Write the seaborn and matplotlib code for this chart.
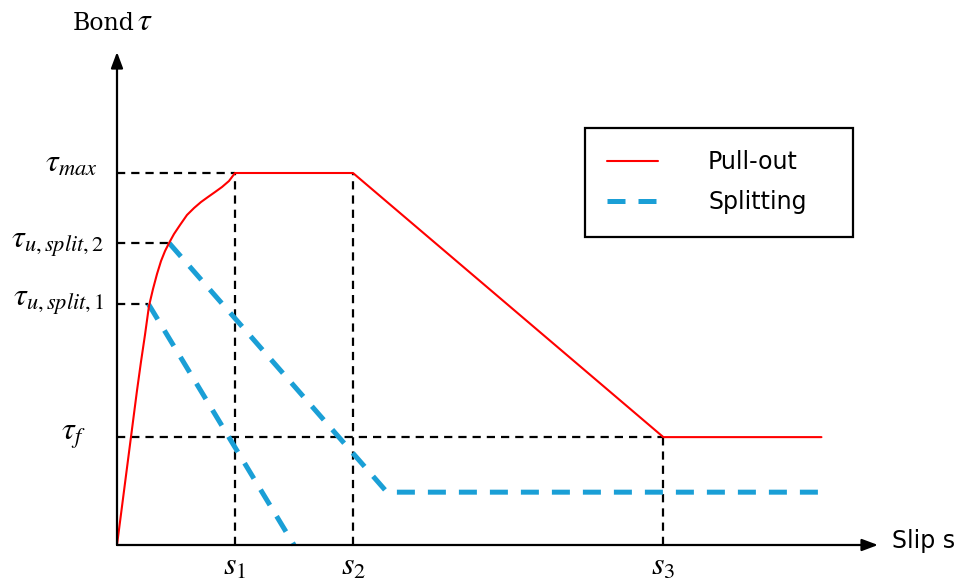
import matplotlib
matplotlib.use("Agg")
import matplotlib.pyplot as plt
import seaborn as sns
import pandas as pd

# ---------------- data ----------------
pull_slip = [0.0, 0.034, 0.068, 0.102, 0.136, 0.169, 0.203, 0.237, 0.271, 0.305,
             0.339, 0.373, 0.407, 0.441, 0.483, 0.534, 0.593, 0.653, 0.712,
             0.771, 0.831, 0.890, 0.949, 1.0, 2.0, 4.63, 5.97]
pull_tau = [0.0, 0.833, 1.667, 2.50, 3.333, 4.14, 4.919, 5.645, 6.425, 6.88,
            7.285, 7.634, 7.903, 8.118, 8.36, 8.602, 8.871, 9.059, 9.22,
            9.355, 9.489, 9.624, 9.785, 10.0, 10.0, 2.90, 2.90]
split1_slip = [0.266, 1.50]
split1_tau = [6.48, 0.0]
split2_slip = [0.441, 2.288, 5.97]
split2_tau = [8.12, 1.42, 1.42]

s_ticks = [1.0, 2.0, 4.63]
s_labels = [r"$s_1$", r"$s_2$", r"$s_3$"]
s_guide_top = [10.0, 10.0, 2.90]
tau_ticks = [10.0, 8.12, 6.48, 2.90]
tau_labels = [r"$\tau_{max}$", r"$\tau_{u,split,2}$", r"$\tau_{u,split,1}$", r"$\tau_f$"]
tau_guide_end = [1.0, 0.441, 0.266, 4.63]

series_names = ["Pull-out", "Splitting"]
x_axis_label = "Slip s"
y_axis_label = ["Bond", r"$\tau$"]

# ---------------- style ----------------
sns.set_style("white")
plt.rcParams["mathtext.fontset"] = "stix"
plt.rcParams["font.family"] = ["DejaVu Sans"]
plt.rcParams["text.color"] = "black"

RED = "#FF0000"
BLUE = "#1A9FD6"

PX_X = 118.0   # pixels per slip unit
PX_Y = 37.2    # pixels per tau unit
OX, OY = 117, 545  # origin in pixels
W, H = 955, 581

fig = plt.figure(figsize=(W / 100, H / 100), dpi=100)
ax = fig.add_axes([0, 0, 1, 1])
ax.set_xlim(-OX / PX_X, (W - OX) / PX_X)
ax.set_ylim(-(H - OY) / PX_Y, OY / PX_Y)
ax.axis("off")

# guide lines
guide_kw = dict(color="black", lw=1.6, linestyle=(0, (3.7, 2.7)), zorder=1)
for t, xe in zip(tau_ticks, tau_guide_end):
    ax.plot([0, xe], [t, t], **guide_kw)
for s, yt in zip(s_ticks, s_guide_top):
    ax.plot([s, s], [0, yt], **guide_kw)

# curves
df_pull = pd.DataFrame({"slip": pull_slip, "tau": pull_tau})
df_s1 = pd.DataFrame({"slip": split1_slip, "tau": split1_tau})
df_s2 = pd.DataFrame({"slip": split2_slip, "tau": split2_tau})

sns.lineplot(data=df_s1, x="slip", y="tau", ax=ax, color=BLUE, lw=3.6,
             linestyle=(0, (3.6, 2.6)), sort=False, estimator=None, zorder=2,
             legend=False)
sns.lineplot(data=df_s2, x="slip", y="tau", ax=ax, color=BLUE, lw=3.6,
             linestyle=(0, (3.6, 2.6)), sort=False, estimator=None, zorder=2,
             label=series_names[1])
sns.lineplot(data=df_pull, x="slip", y="tau", ax=ax, color=RED, lw=1.5,
             sort=False, estimator=None, zorder=3, label=series_names[0])

# axes with arrows
x_tip = (878 - OX) / PX_X
y_tip = (OY - 52) / PX_Y
arrow_kw = dict(arrowstyle="-|>,head_length=0.8,head_width=0.3", lw=1.6,
                color="black", shrinkA=0, shrinkB=0, mutation_scale=12)
ax.annotate("", xy=(x_tip, 0), xytext=(0, 0), arrowprops=arrow_kw, zorder=4)
ax.annotate("", xy=(0, y_tip), xytext=(0, 0), arrowprops=arrow_kw, zorder=4)

# tick labels
ytick_base_px = [172, 248, 306, 440]
ytick_right_px = [98, 104, 104, 86]
for lab, b, r in zip(tau_labels, ytick_base_px, ytick_right_px):
    ax.text((r - OX) / PX_X, (OY - b) / PX_Y, lab, ha="right", va="baseline",
            fontsize=23)
for s, lab in zip(s_ticks, s_labels):
    ax.text(s, (OY - 575) / PX_Y, lab, ha="center", va="baseline", fontsize=23)

# axis titles
ax.text((892 - OX) / PX_X, (OY - 548) / PX_Y, x_axis_label, ha="left",
        va="baseline", fontsize=17, family=["DejaVu Sans"])
ax.text((73 - OX) / PX_X, (OY - 30) / PX_Y, y_axis_label[0], ha="left",
        va="baseline", fontsize=17, family=["DejaVu Serif"])
ax.text((137 - OX) / PX_X, (OY - 30) / PX_Y, y_axis_label[1], ha="left",
        va="baseline", fontsize=23)

# legend
handles, labels = ax.get_legend_handles_labels()
order = [labels.index(n) for n in series_names]
leg = ax.legend([handles[i] for i in order], [labels[i] for i in order],
                loc="upper left",
                bbox_to_anchor=(585 / W, 1 - 245 / H, 268 / W, 117 / H),
                bbox_transform=fig.transFigure, mode="expand",
                borderaxespad=0, fontsize=17, handlelength=2.16,
                handletextpad=2.1, labelspacing=0.68, borderpad=0.95,
                fancybox=False, framealpha=1)
leg.get_frame().set_edgecolor("black")
leg.get_frame().set_linewidth(1.6)
for t in leg.get_texts():
    t.set_color("black")

fig.savefig("out.png", dpi=100)
